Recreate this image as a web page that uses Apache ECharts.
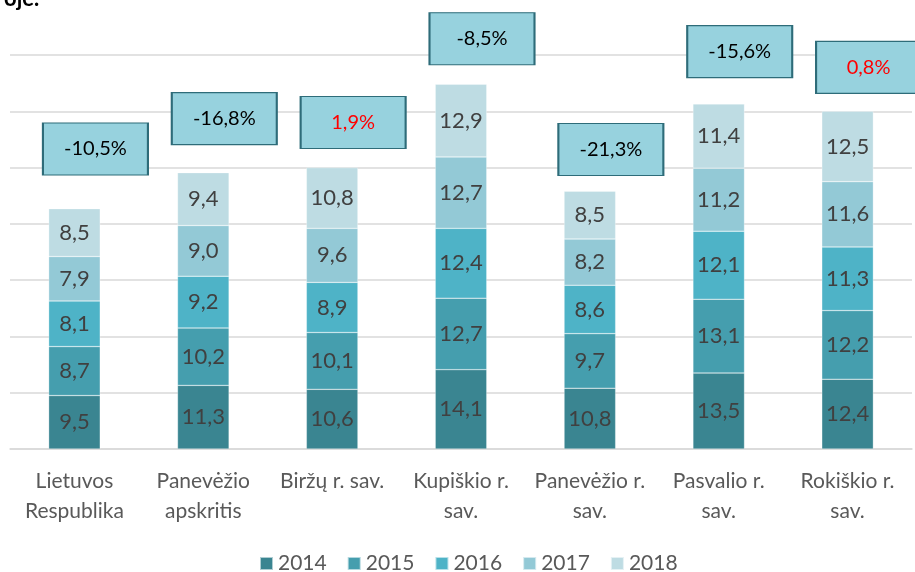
<!DOCTYPE html>
<html>
<head>
<meta charset="utf-8">
<title>Pokytis</title>
<script src="https://cdn.jsdelivr.net/npm/echarts@6/dist/echarts.min.js"></script>
<style>
  html, body { margin: 0; padding: 0; background: #fff; }
  #chart { width: 915px; height: 572px; }
</style>
</head>
<body>
<div id="chart"></div>
<script>
// kategorijos (savivaldybės)
const categories = [
  'Lietuvos\nRespublika',
  'Panevėžio\napskritis',
  'Biržų r. sav.',
  'Kupiškio r.\nsav.',
  'Panevėžio r.\nsav.',
  'Pasvalio r.\nsav.',
  'Rokiškio r.\nsav.'
]
const years = ['2014', '2015', '2016', '2017', '2018']

// reikšmės pagal metus
const v2014 = [9.5, 11.3, 10.6, 14.1, 10.8, 13.5, 12.4]
const v2015 = [8.7, 10.2, 10.1, 12.7, 9.7, 13.1, 12.2]
const v2016 = [8.1, 9.2, 8.9, 12.4, 8.6, 12.1, 11.3]
const v2017 = [7.9, 9.0, 9.6, 12.7, 8.2, 11.2, 11.6]
const v2018 = [8.5, 9.4, 10.8, 12.9, 8.5, 11.4, 12.5]

// pokytis 2014-2018, % ir langelio aukštis (ašies vienetais)
const changes = [-10.5, -16.8, 1.9, -8.5, -21.3, -15.6, 0.8]
const changeLevel = [53.3, 58.7, 58.0, 72.9, 53.2, 70.6, 67.8]

const yearValues = [v2014, v2015, v2016, v2017, v2018]
const colors = ['#3A8591', '#459EAE', '#4EB3C7', '#93C9D6', '#BEDCE3']
const font = 'Lato, "Noto Sans", sans-serif'

const fmt = v => v.toFixed(1).replace('.', ',')

const chart = echarts.init(document.getElementById('chart'))

// stulpelių serijos
const barSeries = years.map((y, i) => ({
  name: y,
  type: 'bar',
  stack: 'total',
  barWidth: '40%',
  data: yearValues[i],
  itemStyle: {
    color: colors[i],
    borderColor: 'rgba(255,255,255,0.6)',
    borderWidth: 0.5
  },
  label: {
    show: true,
    position: 'inside',
    color: '#404040',
    fontFamily: font,
    fontSize: 22,
    formatter: p => fmt(p.value)
  }
}))

// pokyčio langeliai
const boxSeries = {
  name: 'pokytis',
  type: 'scatter',
  clip: false,
  z: 5,
  symbol: 'rect',
  symbolSize: [105, 52],
  symbolOffset: [21, 0],
  itemStyle: {
    color: '#97D2DE',
    borderColor: '#2E6C79',
    borderWidth: 1.5,
    opacity: 1
  },
  label: {
    show: true,
    position: 'inside',
    fontFamily: font,
    fontSize: 20,
    formatter: p => fmt(changes[p.dataIndex]) + '%'
  },
  emphasis: { disabled: true },
  data: changes.map((c, i) => ({
    value: [i, changeLevel[i]],
    label: { color: c > 0 ? '#FF0000' : '#000000' }
  }))
}

const option = {
  animation: false,
  title: {
    text: 'ojė.',
    left: -1,
    top: -17,
    textStyle: { fontFamily: font, fontSize: 22, fontWeight: 'bold', color: '#000' }
  },
  legend: {
    data: years,
    left: 254,
    top: 548,
    itemWidth: 13,
    itemHeight: 13,
    itemGap: 20,
    icon: 'rect',
    textStyle: { fontFamily: font, fontSize: 21, color: '#595959' }
  },
  grid: {
    left: 10,
    right: 3,
    top: 55,
    bottom: 123
  },
  xAxis: {
    type: 'category',
    data: categories,
    axisTick: { show: false },
    axisLine: { lineStyle: { color: '#D9D9D9', width: 1.5 } },
    axisLabel: {
      interval: 0,
      margin: 17,
      fontFamily: font,
      fontSize: 21,
      lineHeight: 30,
      color: '#595959'
    }
  },
  yAxis: {
    type: 'value',
    min: 0,
    max: 70,
    interval: 10,
    axisLabel: { show: false },
    axisLine: { show: false },
    axisTick: { show: false },
    splitLine: { lineStyle: { color: '#D9D9D9', width: 1.5 } }
  },
  series: [...barSeries, boxSeries]
}

chart.setOption(option)
</script>
</body>
</html>
